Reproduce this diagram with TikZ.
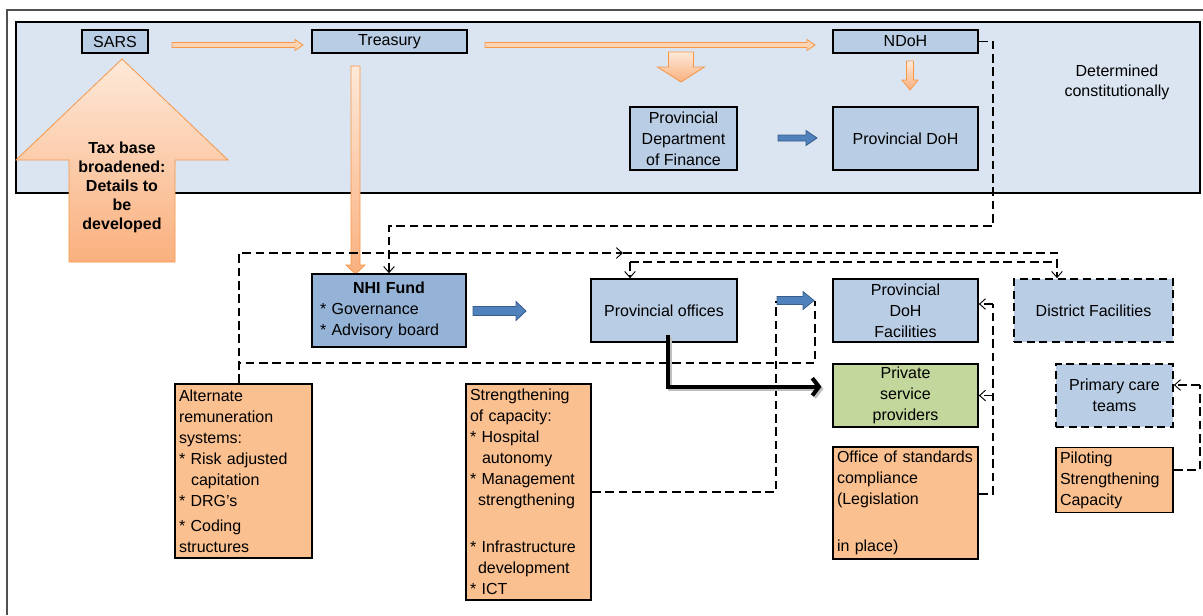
\documentclass[tikz,border=0pt]{standalone}
\usepackage{fontspec}
\setmainfont{Liberation Sans}
\usetikzlibrary{arrows.meta}

\definecolor{bandblue}{RGB}{219,229,241}
\definecolor{boxblue}{RGB}{185,205,229}
\definecolor{fundblue}{RGB}{149,179,215}
\definecolor{boxorange}{RGB}{250,192,144}
\definecolor{boxgreen}{RGB}{195,214,155}
\definecolor{arrowblue}{RGB}{79,129,189}
\definecolor{arrowblueline}{RGB}{56,93,138}
\definecolor{peachlight}{RGB}{253,233,217}
\definecolor{peach}{RGB}{251,212,180}
\definecolor{peachdark}{RGB}{250,176,126}
\definecolor{peachline}{RGB}{247,150,70}
\definecolor{framegray}{RGB}{80,80,80}

\tikzset{every picture/.style={line width=0.75pt}}
\tikzset{
  box/.style={draw=black, line width=1.3pt, fill=boxblue, inner sep=2pt, align=center,
    font=\fontsize{12}{15.75}\selectfont},
  dbox/.style={box, dash pattern=on 6pt off 3.5pt},
  obox/.style={box, fill=boxorange, align=left, inner sep=3pt},
  dline/.style={line width=0.9pt, dash pattern=on 6.5pt off 3.5pt},
  barb/.style={-{Straight Barb[length=4.5pt,width=8pt,line width=0.7pt]}},
  thinorange/.style={draw=peachline, fill=peach, line width=0.6pt},
  fatorange/.style={draw=peachline, line width=0.6pt, top color=peachlight, bottom color=peachdark},
  bluearrow/.style={draw=arrowblueline, fill=arrowblue, line width=0.6pt},
  blackarrow/.style={line width=3pt, -{Straight Barb[length=5pt,width=13pt]}},
}

% block arrows: style, x tail, x tip, y, half shaft, half head, head length
\newcommand{\hblockarrow}[7]{%
  \draw[#1] (#2,{#4-#5}) -- ({#3-#7},{#4-#5}) -- ({#3-#7},{#4-#6}) -- (#3,#4) -- ({#3-#7},{#4+#6}) -- ({#3-#7},{#4+#5}) -- (#2,{#4+#5}) -- cycle;}
% style, x, y tail, y tip, half shaft, half head, head length (signed)
\newcommand{\vblockarrow}[7]{%
  \draw[#1] ({#2-#5},#3) -- ({#2-#5},{#4-(#7)}) -- ({#2-#6},{#4-(#7)}) -- (#2,#4) -- ({#2+#6},{#4-(#7)}) -- ({#2+#5},{#4-(#7)}) -- ({#2+#5},#3) -- cycle;}

\begin{document}
\begin{tikzpicture}[x=0.75pt,y=0.75pt,yscale=-1,xscale=1]
\useasboundingbox (0,0) rectangle (1203,615);
%Frame
\draw [framegray, line width=1.2pt] (1203,10) -- (7,10) -- (7,615) ;
%Shape: Rectangle [national level]
\draw [fill=bandblue, line width=1.3pt] (16,22) rectangle (1200,193) ;

%Block Arrows
\vblockarrow{fatorange}{122}{262}{59}{53}{106}{-101}
\hblockarrow{thinorange}{172}{303}{45}{2.5}{5.5}{8}
\hblockarrow{thinorange}{485}{815}{45}{2.5}{5.5}{8}
\vblockarrow{fatorange}{681}{52}{82}{12.5}{23.5}{15}
\vblockarrow{fatorange}{910}{61}{90}{3.5}{8}{10}
\vblockarrow{fatorange}{355.5}{66}{274}{4.5}{9.5}{9}
\hblockarrow{bluearrow}{778}{817}{138}{3}{7.5}{11}
\hblockarrow{bluearrow}{473}{526}{311}{4.5}{9.5}{10}
\hblockarrow{bluearrow}{777}{814}{300.5}{4}{9}{11}

% Text Node
\node [font=\bfseries\fontsize{12}{14.25}\selectfont, align=center] (tax) at (122,187) {Tax base\\broadened:\\Details to\\be\\developed};
% Text Node
\node [align=center, font=\fontsize{12}{15}\selectfont] (detc) at (1117,82) {Determined\\constitutionally};

%Shape: Rectangle
\node [box, minimum width=49.5pt, minimum height=17.25pt] (sars) at (115,41.5) {SARS};
\node [box, minimum width=116.25pt, minimum height=17.25pt] (trs) at (389.5,41.5) {Treasury};
\node [box, minimum width=108.75pt, minimum height=17.25pt] (ndoh) at (905.5,41.5) {NDoH};
\node [box, minimum width=80.25pt, minimum height=47.25pt] (pfin) at (683.5,138.5) {Provincial\\Department\\of Finance};
\node [box, minimum width=108.75pt, minimum height=47.25pt] (pdoh) at (905.5,138.5) {Provincial DoH};
\node [box, fill=fundblue, align=left, inner sep=6pt, text width=103.5pt, minimum height=47.25pt] (nhi) at (389,310.5)
  {{\centering\textbf{NHI Fund}\par}* Governance\\{}* Advisory board};
\node [box, minimum width=109.5pt, minimum height=47.25pt] (pvo) at (664,310.5) {Provincial offices};
\node [box, minimum width=108.75pt, minimum height=47.25pt] (fac) at (905.5,310.5) {Provincial\\DoH\\Facilities};
\node [dbox, minimum width=119.25pt, minimum height=47.25pt] (dist) at (1093.5,310.5) {District Facilities};
\node [box, fill=boxgreen, minimum width=108.75pt, minimum height=47.25pt] (psp) at (905.5,395.5) {Private\\service\\providers};
\node [dbox, minimum width=87.75pt, minimum height=47.25pt] (pct) at (1114.5,395.5) {Primary care\\teams};
\node [obox, text width=96.75pt, minimum height=130.5pt] (arm) at (243.5,471)
  {Alternate\\remuneration\\systems:\\{}* Risk adjusted\\\hspace*{9pt}capitation\\{}* DRG's\\[3pt]{}* Coding\\structures};
\node [obox, text width=87.75pt, minimum height=162pt] (soc) at (528.5,492)
  {Strengthening\\of capacity:\\{}* Hospital\\\hspace*{9pt}autonomy\\{}* Management\\\hspace*{6pt}strengthening\\[19.5pt]{}* Infrastructure\\\hspace*{6pt}development\\{}* ICT};
\node [obox, text width=102.75pt, minimum height=82.5pt] (osc) at (905.5,503)
  {Office of standards\\compliance\\(Legislation\\[19.5pt]in place)};
\node [obox, text width=81.75pt, minimum height=48pt] (psc) at (1114.5,480) {Piloting\\Strengthening\\Capacity};

%Connectors
\coordinate (dn) at (993,226);
\coordinate (ja) at (623,253);
\coordinate (jb) at (630,262);
\coordinate (jd) at (1057,253);
\coordinate (je) at (815,301);
\coordinate (jf) at (815,363);
\coordinate (jg) at (776,301);
\coordinate (jh) at (993,304);
\coordinate (ji) at (1200,385);
\draw [dline, barb] (ndoh.east) -| (dn) -| (nhi.north) ;
\draw [dline, barb] ([xshift=-3.4pt]arm.north) |- (ja) ;
\draw [dline, barb] (ja) -- (jd) -- (jd |- dist.north) ;
\draw [dline, barb] (jb) -- (jb |- pvo.north) ;
\draw [dline] (jb) -- (jb -| jd) ;
\draw [dline] ([xshift=-3.4pt]arm.north) |- (jf) -- (je) ;
\draw [dline] (soc.east) -| (jg) ;
\draw [dline] ([yshift=-6.75pt]osc.east) -| (jh) ;
\draw [dline, barb] (jh) -- (jh -| fac.east) ;
\draw [dline, barb] (psp.east -| jh) -- (psp.east) ;
\draw [dline] ([yshift=-7.5pt]psc.east) -| (ji) ;
\draw [dline, barb] (ji) -- (ji -| pct.east) ;
%Thick arrow
\draw [blackarrow, black!25, transform canvas={xshift=1.5pt,yshift=-1.5pt}] ([xshift=3pt,yshift=-6pt]pvo.south) |- ([xshift=-8pt,yshift=-6.5pt]psp.west) ;
\draw [blackarrow] ([xshift=3pt,yshift=-6pt]pvo.south) |- ([xshift=-8pt,yshift=-6.5pt]psp.west) ;
\end{tikzpicture}
\end{document}
